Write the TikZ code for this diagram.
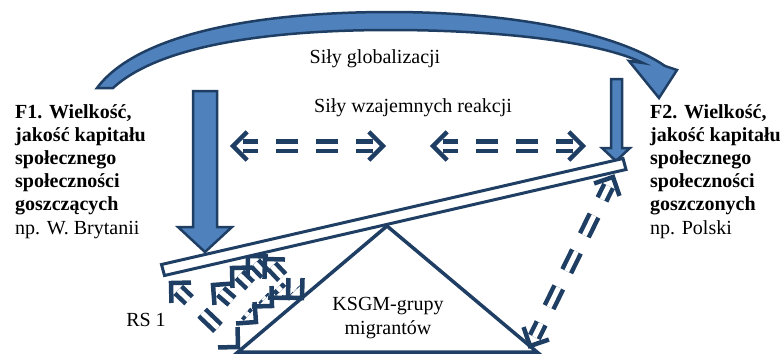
\documentclass[tikz,border=0pt]{standalone}
\usepackage{fontspec}
\setmainfont{Liberation Serif}
\usetikzlibrary{calc}
\definecolor{navy}{RGB}{31,62,99}
\definecolor{fillblue}{RGB}{79,129,189}
\newcommand\ddarrow[2]{%
  \draw[ddline] (#1) -- (#2);
  \draw[chev] ($(#1)!20pt!45:(#2)$) -- (#1) -- ($(#1)!20pt!-45:(#2)$);
  \draw[chev] ($(#2)!20pt!45:(#1)$) -- (#2) -- ($(#2)!20pt!-45:(#1)$);
}
\begin{document}
\begin{tikzpicture}[x=1pt,y=-1pt,
  ddline/.style={navy, line width=4.5pt, double=white, double distance=5pt,
    dash pattern=on 22pt off 18pt, dash phase=7pt, shorten >=10pt, shorten <=10pt},
  chev/.style={navy, line width=4.5pt, line join=miter},
  blockarrow/.style={fill=fillblue, draw=navy, line width=2.5pt, line join=miter},
  txt/.style={font=\fontsize{20}{23.2}\selectfont, inner sep=0pt, align=left},
  ctxt/.style={font=\fontsize{20}{23.2}\selectfont, inner sep=0pt, align=center}]
\useasboundingbox (0,0) rectangle (782,356);

% curved globalization arrow
\path[blockarrow] (97,88) .. controls (138,33) and (260,12) .. (390,12)
  .. controls (520,12) and (620,35) .. (665,66) -- (677,70) -- (659,98) -- (629,61) -- (643,63)
  .. controls (600,42) and (500,30) .. (390,30)
  .. controls (270,30) and (160,45) .. (113,88) -- cycle;

% big block arrows
\path[blockarrow] (193,91) -- (217,91) -- (217,227) -- (232,227) -- (205,252) -- (178,227) -- (193,227) -- cycle;
\path[blockarrow] (611,79) -- (622,79) -- (622,148) -- (630,148) -- (616,161) -- (602,148) -- (611,148) -- cycle;

% triangle
\draw[navy, line width=3.5pt, line join=miter] (238,352) -- (537,352) -- (387,226) -- cycle;

% dashed double arrows
\coordinate (h1a) at (233,146); \coordinate (h1b) at (383,146);
\coordinate (h2a) at (433,146); \coordinate (h2b) at (583,146);
\ddarrow{h1a}{h1b}
\ddarrow{h2a}{h2b}

\coordinate (r1) at (613,177); \coordinate (r2) at (530,346);
\ddarrow{r1}{r2}

\coordinate (c1a) at (171,283); \coordinate (c1b) at (238,347);
\coordinate (c2a) at (213,285); \coordinate (c2b) at (256,322);
\coordinate (c3a) at (232,268); \coordinate (c3b) at (272,306);
\coordinate (c4a) at (248,256); \coordinate (c4b) at (288,298);
\coordinate (c5a) at (265,259); \coordinate (c5b) at (302,298);
\ddarrow{c1a}{c1b}
\ddarrow{c2a}{c2b}
\ddarrow{c3a}{c3b}
\ddarrow{c4a}{c4b}
\ddarrow{c5a}{c5b}

% plank
\draw[navy, line width=3pt, fill=white] (161.5,264.5) -- (164.5,275.5) -- (626,169.5) -- (623,158.5) -- cycle;

% texts
\node[txt, anchor=north west] (f1) at (15,104) {\textbf{F1. Wielkość,}\\\textbf{jakość kapitału}\\\textbf{społecznego}\\\textbf{społeczności}\\\textbf{goszczących}\\np. W. Brytanii};
\node[txt, anchor=north west] (f2) at (650,104) {\textbf{F2. Wielkość,}\\\textbf{jakość kapitału}\\\textbf{społecznego}\\\textbf{społeczności}\\\textbf{goszczonych}\\np. Polski};
\node[ctxt] (glob) at (375,59) {Siły globalizacji};
\node[ctxt] (wz) at (413,108) {Siły wzajemnych reakcji};
\node[ctxt] (ksgm) at (388,318) {KSGM-grupy\\migrantów};
\node[ctxt] (rs) at (146,320) {RS 1};
\end{tikzpicture}
\end{document}
